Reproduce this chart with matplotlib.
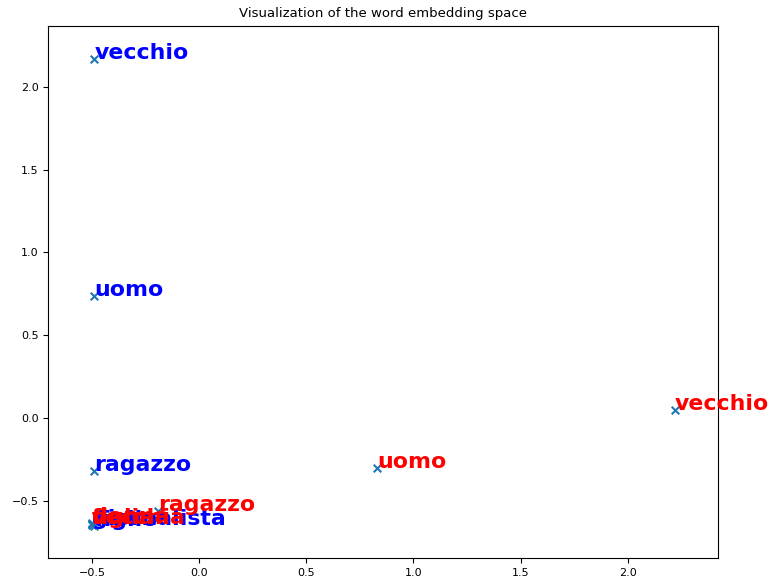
import matplotlib
matplotlib.use("Agg")
import matplotlib.pyplot as plt

# parole e coordinate (lette a occhio dal grafico)
words_a = ["vecchio", "uomo", "ragazzo", "figlio", "giornalista"]
xa = [-0.49, -0.49, -0.49, -0.49, -0.50]
ya = [2.17, 0.74, -0.32, -0.65, -0.645]

words_b = ["vecchio", "uomo", "ragazzo", "figlia", "donna", "vecchia"]
xb = [2.22, 0.83, -0.19, -0.50, -0.50, -0.50]
yb = [0.05, -0.30, -0.56, -0.64, -0.635, -0.64]

fig, ax = plt.subplots(figsize=(7.76, 5.86), dpi=100)

ax.scatter(xa, ya, marker='x', color='tab:blue', s=30)
for w, x, y in zip(words_a, xa, ya):
    ax.text(x, y, w, color='blue', fontsize=15.8, fontweight='bold')

ax.scatter(xb, yb, marker='x', color='tab:blue', s=30)
for w, x, y in zip(words_b, xb, yb):
    ax.text(x, y, w, color='red', fontsize=15.8, fontweight='bold')

ax.set_xlim(-0.705, 2.42)
ax.set_ylim(-0.844, 2.369)
ax.tick_params(labelsize=8)
ax.set_title("Visualization of the word embedding space", fontsize=9.5)

fig.subplots_adjust(left=0.062, right=0.925, top=0.956, bottom=0.048)
fig.savefig("out.png")
